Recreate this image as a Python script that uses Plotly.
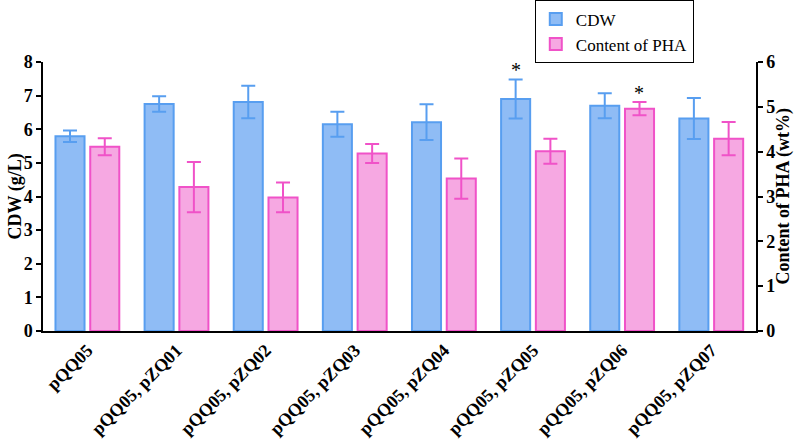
import plotly.graph_objects as go

categories = ["pQQ05", "pQQ05, pZQ01", "pQQ05, pZQ02", "pQQ05, pZQ03",
              "pQQ05, pZQ04", "pQQ05, pZQ05", "pQQ05, pZQ06", "pQQ05, pZQ07"]
cdw = [5.79, 6.75, 6.81, 6.15, 6.21, 6.90, 6.70, 6.32]
cdw_err = [0.17, 0.23, 0.48, 0.37, 0.53, 0.58, 0.37, 0.61]
pha = [4.11, 3.21, 2.98, 3.96, 3.40, 4.01, 4.96, 4.29]
pha_err = [0.19, 0.56, 0.33, 0.21, 0.45, 0.28, 0.15, 0.37]

BLUE_FILL = "rgb(143,188,245)"
BLUE_LINE = "rgb(88,158,240)"
PINK_FILL = "rgb(246,168,226)"
PINK_LINE = "rgb(240,82,200)"
FONT = "Liberation Serif"

fig = go.Figure()
fig.add_trace(go.Bar(
    x=categories, y=cdw, name="CDW", yaxis="y",
    marker=dict(color=BLUE_FILL, line=dict(color=BLUE_LINE, width=2)),
    width=0.326, offset=-0.36,
    error_y=dict(type="data", array=cdw_err, visible=True, color=BLUE_LINE,
                 thickness=2, width=7),
))
fig.add_trace(go.Bar(
    x=categories, y=pha, name="Content of PHA", yaxis="y2",
    marker=dict(color=PINK_FILL, line=dict(color=PINK_LINE, width=2)),
    width=0.326, offset=0.03,
    error_y=dict(type="data", array=pha_err, visible=True, color=PINK_LINE,
                 thickness=2, width=7),
))

# significance stars
fig.add_annotation(x=5, y=cdw[5] + cdw_err[5], xref="x", yref="y", text="*",
                   showarrow=False, xshift=-17, yanchor="bottom", yshift=-4,
                   font=dict(family=FONT, size=20, color="black"))
fig.add_annotation(x=6, y=pha[6] + pha_err[6], xref="x", yref="y2", text="*",
                   showarrow=False, xshift=17, yanchor="bottom", yshift=-4,
                   font=dict(family=FONT, size=20, color="black"))

# axis titles
fig.add_annotation(x=0, y=0.5, xref="paper", yref="paper", text="<b>CDW (g/L)</b>",
                   textangle=-90, showarrow=False, xanchor="center", yanchor="middle",
                   xshift=-28, font=dict(family=FONT, size=18, color="black"))
fig.add_annotation(x=1, y=0.5, xref="paper", yref="paper",
                   text="<b>Content of PHA (wt%)</b>",
                   textangle=-90, showarrow=False, xanchor="center", yanchor="middle",
                   xshift=27, font=dict(family=FONT, size=18, color="black"))

fig.update_layout(
    width=797, height=440, autosize=False,
    margin=dict(l=43, r=41, t=62, b=109, autoexpand=False),
    plot_bgcolor="white", paper_bgcolor="white",
    font=dict(family=FONT, color="black"),
    barmode="overlay",
    showlegend=True,
    legend=dict(xref="container", yref="container",
                x=0.671, y=0.999, xanchor="left", yanchor="top",
                bgcolor="white", bordercolor="black", borderwidth=1,
                font=dict(family=FONT, size=17, color="black"),
                itemwidth=30, tracegroupgap=0),
    xaxis=dict(
        range=[-0.5, 7.5], showline=True, linecolor="black", linewidth=1.5,
        ticks="", tickangle=-45, automargin=False,
        tickfont=dict(family=FONT, size=18, color="black", weight="bold"),
        showgrid=False, zeroline=False,
    ),
    yaxis=dict(
        range=[0, 8], dtick=1, showline=True, linecolor="black", linewidth=1.5,
        ticks="outside", ticklen=5, tickwidth=1.5, tickcolor="black",
        automargin=False,
        tickfont=dict(family=FONT, size=18, color="black", weight="bold"),
        showgrid=False, zeroline=False,
    ),
    yaxis2=dict(
        range=[0, 6], dtick=1, overlaying="y", side="right",
        showline=True, linecolor="black", linewidth=1.5,
        ticks="outside", ticklen=5, tickwidth=1.5, tickcolor="black",
        automargin=False,
        tickfont=dict(family=FONT, size=18, color="black", weight="bold"),
        showgrid=False, zeroline=False,
    ),
)

fig.write_html("out.html", config={"displayModeBar": False},
               post_script="document.body.style.margin='0';")
